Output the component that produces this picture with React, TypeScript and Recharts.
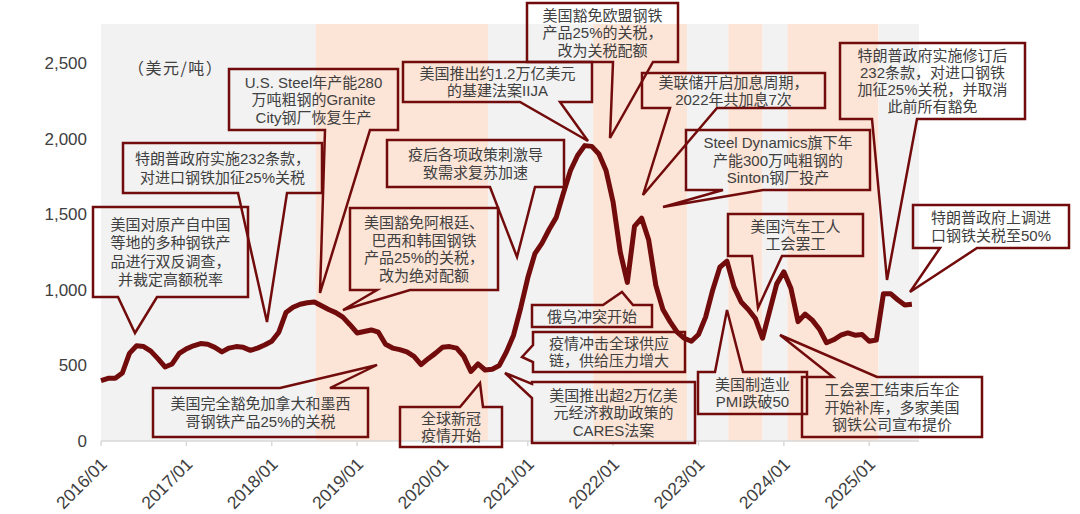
import { LineChart, Line, XAxis, YAxis, ReferenceArea } from 'recharts';

// 月份序号：0 = 2016/01
const months: number[] = Array.from({ length: 115 }, (_, i) => i);

// 美国热轧板卷价格（美元/吨），月度读数
const price: number[] = [
  400, 415, 415, 450, 580, 630, 625, 595, 545, 490, 510, 580,
  610, 630, 645, 640, 620, 590, 615, 625, 620, 600, 615, 635,
  660, 720, 850, 885, 905, 915, 920, 895, 870, 850, 820, 770,
  715, 725, 735, 720, 640, 615, 605, 590, 560, 505, 545, 580,
  620, 625, 615, 560, 460, 510, 470, 475, 500, 590, 700, 880,
  1080, 1240, 1310, 1400, 1480, 1640, 1790, 1890, 1955, 1950, 1900, 1790,
  1580, 1250, 1050, 1420, 1475, 1330, 1030, 870, 790, 720, 680, 660,
  705, 820, 1000, 1150, 1190, 1020, 920, 870, 810, 680, 860, 1040,
  1120, 1010, 790, 840, 800, 740, 650, 670, 700, 715, 700, 705,
  660, 668, 975, 975, 935, 900, 905,
];

const yearTicks: number[] = [0, 12, 24, 36, 48, 60, 72, 84, 96, 108];
const yTicks: number[] = [0, 500, 1000, 1500, 2000, 2500];

// 背景阶段分界（月份序号）
const bandEdges: number[] = [0, 30.2, 54.4, 69.2, 82.4, 88.2, 93, 96.5, 109.3, 115];

const data = months.map((m, i) => ({ m, v: price[i] }));

const RED = '#720c0c';
const TEXT = '#404040';
const FONT = '"Liberation Sans", Arial, "Noto Sans CJK SC", sans-serif';

type Note = {
  lines: string[];
  box: [number, number, number, number];
  side: 'top' | 'bottom' | 'left' | 'right';
  a: number;
  b: number;
  tip: [number, number];
  gap?: number;
};

const notes: Note[] = [
  { lines: ['美国对原产自中国', '等地的多种钢铁产', '品进行双反调查，', '并裁定高额税率'], box: [93, 207, 155, 90], side: 'bottom', a: 118, b: 157, tip: [135, 333], gap: 18.5 },
  { lines: ['特朗普政府实施232条款，', '对进口钢铁加征25%关税'], box: [123, 143, 199, 50], side: 'bottom', a: 238, b: 287, tip: [267, 322], gap: 19 },
  { lines: ['U.S. Steel年产能280', '万吨粗钢的Granite', 'City钢厂恢复生产'], box: [229, 69, 169, 61], side: 'bottom', a: 325, b: 370, tip: [320, 293] },
  { lines: ['美国完全豁免加拿大和墨西', '哥钢铁产品25%的关税'], box: [153, 388, 215, 49], side: 'top', a: 280, b: 330, tip: [377, 365] },
  { lines: ['美国豁免阿根廷、', '巴西和韩国钢铁', '产品25%的关税，', '改为绝对配额'], box: [350, 208, 148, 82], side: 'bottom', a: 377, b: 410, tip: [343, 310] },
  { lines: ['疫后各项政策刺激导', '致需求复苏加速'], box: [387, 140, 177, 47], side: 'bottom', a: 490, b: 535, tip: [517, 257] },
  { lines: ['美国推出约1.2万亿美元', '的基建法案IIJA'], box: [403, 62, 189, 40], side: 'bottom', a: 520, b: 560, tip: [588, 141] },
  { lines: ['美国豁免欧盟钢铁', '产品25%的关税，', '改为关税配额'], box: [527, 3, 151, 59], side: 'bottom', a: 613, b: 653, tip: [610, 138] },
  { lines: ['美联储开启加息周期，', '2022年共加息7次'], box: [642, 73, 183, 35], side: 'bottom', a: 670, b: 717, tip: [643, 195], gap: 17 },
  { lines: ['Steel Dynamics旗下年', '产能300万吨粗钢的', 'Sinton钢厂投产'], box: [686, 130, 184, 60], side: 'bottom', a: 723, b: 763, tip: [663, 207] },
  { lines: ['特朗普政府实施修订后', '232条款，对进口钢铁', '加征25%关税，并取消', '此前所有豁免'], box: [840, 43, 185, 76], side: 'bottom', a: 872, b: 917, tip: [887, 280], gap: 17 },
  { lines: ['美国汽车工人', '工会罢工'], box: [728, 214, 135, 42], side: 'bottom', a: 752, b: 782, tip: [758, 308] },
  { lines: ['特朗普政府上调进', '口钢铁关税至50%'], box: [913, 205, 156, 43], side: 'bottom', a: 940, b: 977, tip: [910, 292] },
  { lines: ['俄乌冲突开始'], box: [532, 305, 120, 22], side: 'top', a: 603, b: 633, tip: [622, 292] },
  { lines: ['疫情冲击全球供应', '链，供给压力增大'], box: [533, 332, 152, 40], side: 'left', a: 345, b: 362, tip: [522, 357] },
  { lines: ['美国推出超2万亿美', '元经济救助政策的', 'CARES法案'], box: [532, 382, 163, 61], side: 'left', a: 384, b: 398, tip: [505, 373] },
  { lines: ['全球新冠', '疫情开始'], box: [400, 407, 102, 40], side: 'top', a: 460, b: 483, tip: [480, 383] },
  { lines: ['美国制造业', 'PMI跌破50'], box: [698, 372, 109, 42], side: 'top', a: 715, b: 743, tip: [727, 310], gap: 16.5 },
  { lines: ['工会罢工结束后车企', '开始补库，多家美国', '钢铁公司宣布提价'], box: [802, 377, 180, 60], side: 'top', a: 833, b: 877, tip: [780, 335] },
];

function bubblePath(n: Note) {
  const [x, y, w, h] = n.box;
  const r = x + w;
  const btm = y + h;
  const t = n.tip;
  const pts: number[][] = [[x, y]];
  if (n.side === 'top') pts.push([n.a, y], t, [n.b, y]);
  pts.push([r, y]);
  if (n.side === 'right') pts.push([r, n.a], t, [r, n.b]);
  pts.push([r, btm]);
  if (n.side === 'bottom') pts.push([n.b, btm], t, [n.a, btm]);
  pts.push([x, btm]);
  if (n.side === 'left') pts.push([x, n.b], t, [x, n.a]);
  return 'M' + pts.map((p) => p.join(',')).join('L') + 'Z';
}

function Callout({ n }: { n: Note }) {
  const [x, y, w, h] = n.box;
  const gap = n.gap ?? 17.5;
  const cx = x + w / 2;
  const cy = y + h / 2;
  const start = cy - ((n.lines.length - 1) * gap) / 2;
  return (
    <g>
      <path d={bubblePath(n)} fill="none" stroke={RED} strokeWidth={2.5} strokeLinejoin="miter" />
      {n.lines.map((l, i) => (
        <text key={i} x={cx} y={start + i * gap} textAnchor="middle" dominantBaseline="central" fontSize={15} fill={TEXT} fontFamily={FONT}>
          {l}
        </text>
      ))}
    </g>
  );
}

function XTick(props: any) {
  const { x, y, payload } = props;
  const m = payload.value as number;
  const label = `${2016 + Math.floor(m / 12)}/01`;
  const ax = x + 3;
  const ay = y + 13;
  return (
    <text x={ax} y={ay} transform={`rotate(-45 ${ax} ${ay})`} textAnchor="end" dominantBaseline="central" fontSize={17.5} fill={TEXT} fontFamily={FONT}>
      {label}
    </text>
  );
}

export default function App() {
  const bands = bandEdges.slice(0, -1).map((x1, i) => ({ x1, x2: bandEdges[i + 1], fill: i % 2 === 0 ? '#f2f2f2' : '#fce4d6' }));
  return (
    <div style={{ position: 'absolute', left: 0, top: 0, width: 1080, height: 514, background: '#fff' }}>
      <LineChart width={1080} height={514} data={data} margin={{ top: 24, right: 161, bottom: 0, left: 0 }}>
        {bands.map((b) => (
          <ReferenceArea key={b.x1} x1={b.x1} x2={b.x2} fill={b.fill} fillOpacity={1} stroke="none" ifOverflow="visible" />
        ))}
        <XAxis
          dataKey="m"
          type="number"
          domain={[0, 115]}
          ticks={yearTicks}
          height={73}
          interval={0}
          stroke="#d9d9d9"
          strokeWidth={1.5}
          tickSize={5}
          tick={<XTick />}
        />
        <YAxis
          domain={[0, 2760]}
          ticks={yTicks}
          width={101}
          axisLine={false}
          tickLine={false}
          tickSize={0}
          tickMargin={14}
          tickFormatter={(v: number) => v.toLocaleString('en-US')}
          tick={{ fontSize: 17, fill: TEXT, fontFamily: FONT }}
        />
        <Line dataKey="v" type="linear" stroke={RED} strokeWidth={5} dot={false} strokeLinejoin="round" isAnimationActive={false} />
      </LineChart>
      <svg width={1080} height={514} style={{ position: 'absolute', left: 0, top: 0, pointerEvents: 'none' }}>
        <text x={128} y={67} dominantBaseline="central" fontSize={16} letterSpacing={1.5} fill={TEXT} fontFamily='"Noto Sans CJK SC", sans-serif'>
          （美元/吨）
        </text>
        {notes.map((n, i) => (
          <Callout key={i} n={n} />
        ))}
      </svg>
    </div>
  );
}
